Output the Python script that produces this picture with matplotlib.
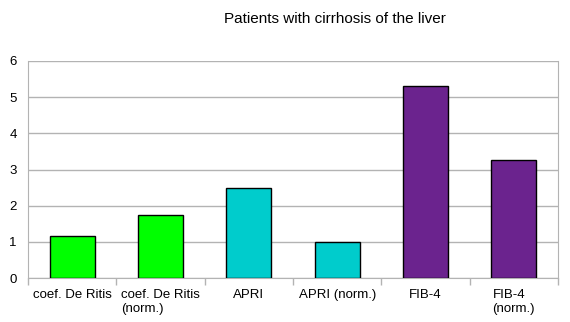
import matplotlib
matplotlib.use("Agg")
import matplotlib.pyplot as plt
import numpy as np

# ── Data ─────────────────────────────────────────────────────────────
CATEGORIES = ["coef. De Ritis", "coef. De Ritis\n(norm.)", "APRI",
              "APRI (norm.)", "FIB-4", "FIB-4\n(norm.)"]
VALUES = [1.15, 1.75, 2.5, 1.0, 5.3, 3.25]
COLOURS = ["#00FF00", "#00FF00", "#00CCCC", "#00CCCC", "#6B238E", "#6B238E"]
Y_TICKS = [0, 1, 2, 3, 4, 5, 6]

plt.rcParams["font.family"] = ["Liberation Sans", "DejaVu Sans"]
GRID = "#B3B3B3"

fig = plt.figure(figsize=(5.7, 3.22), dpi=100)
ax = fig.add_axes([0.049, 0.1366, 0.930, 0.674])

x = np.arange(len(CATEGORIES))
ax.bar(x, VALUES, width=0.51, color=COLOURS, edgecolor="black",
       linewidth=1.0, zorder=3)

ax.set_xlim(-0.5, len(CATEGORIES) - 0.5)
ax.set_ylim(0, 6)
ax.set_yticks(Y_TICKS)
ax.yaxis.grid(True, color=GRID, linewidth=1.0, zorder=0)
ax.set_axisbelow(True)

ax.set_xticks(x)
ax.set_xticklabels(CATEGORIES, fontsize=9.5, multialignment="left",
                   va="top")
ax.set_xticks(np.arange(-0.5, len(CATEGORIES)), minor=True)
ax.tick_params(axis="x", which="major", length=0, pad=8)
ax.tick_params(axis="x", which="minor", length=5, color=GRID, width=1)
ax.tick_params(axis="y", length=0, pad=8, labelsize=9.5)

for side in ["left", "right", "bottom"]:
    ax.spines[side].set_color(GRID)
ax.spines["top"].set_visible(False)

fig.text(0.587, 0.94, "Patients with cirrhosis of the liver",
         ha="center", va="center", fontsize=11)

plt.savefig("out.png", dpi=100, facecolor="white")
plt.close()
